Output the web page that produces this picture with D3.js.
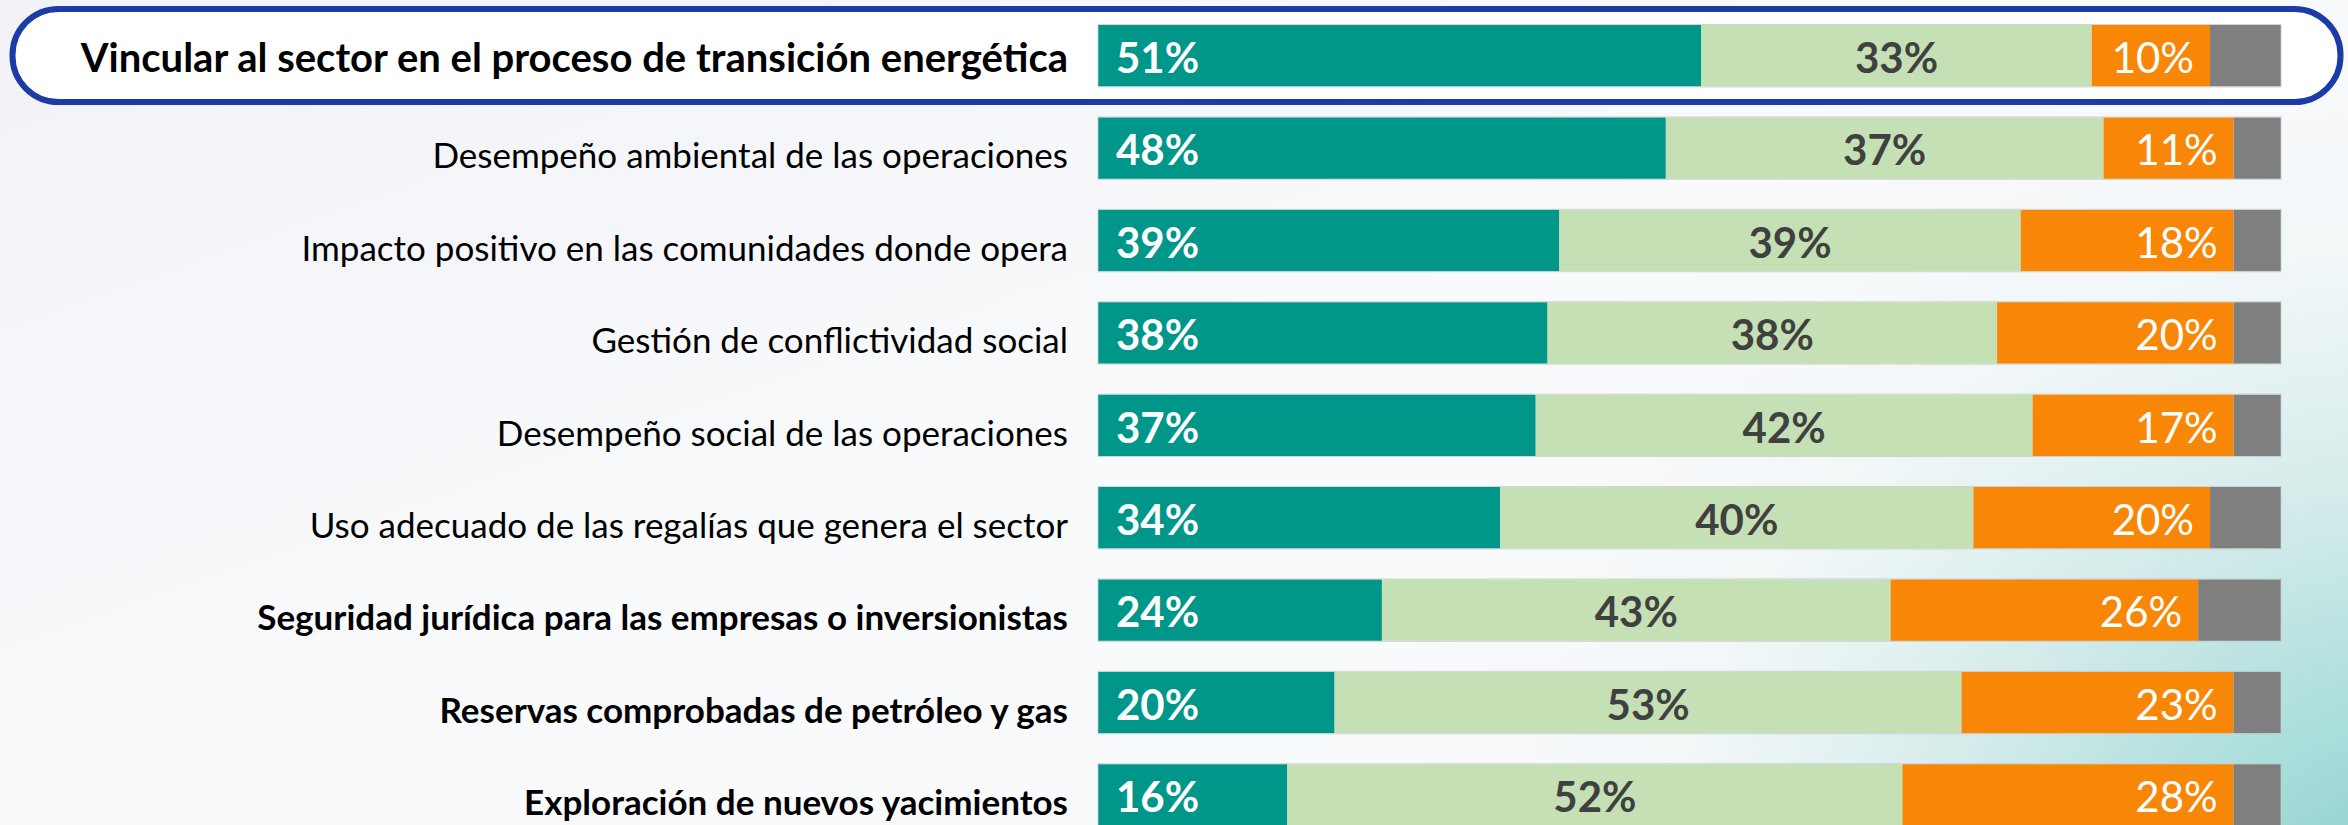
<!DOCTYPE html>
<html>
<head>
<meta charset="utf-8">
<script src="https://cdn.jsdelivr.net/npm/d3@7"></script>
<style>
  html, body { margin: 0; padding: 0; background: #f6f7fa; }
  svg { display: block; }
</style>
</head>
<body>
<svg id="chart" width="2348" height="825"></svg>
<script>
// ---- data ----
const categories = [
  "Vincular al sector en el proceso de transición energética",
  "Desempeño ambiental de las operaciones",
  "Impacto positivo en las comunidades donde opera",
  "Gestión de conflictividad social",
  "Desempeño social de las operaciones",
  "Uso adecuado de las regalías que genera el sector",
  "Seguridad jurídica para las empresas o inversionistas",
  "Reservas comprobadas de petróleo y gas",
  "Exploración de nuevos yacimientos"
];
const seriesA = [51, 48, 39, 38, 37, 34, 24, 20, 16]; // teal
const seriesB = [33, 37, 39, 38, 42, 40, 43, 53, 52]; // light green
const seriesC = [10, 11, 18, 20, 17, 20, 26, 23, 28]; // orange
const seriesD = [6, 4, 4, 4, 4, 6, 7, 4, 4];          // grey (no label)
const boldCategories = [
  "Vincular al sector en el proceso de transición energética",
  "Seguridad jurídica para las empresas o inversionistas",
  "Reservas comprobadas de petróleo y gas",
  "Exploración de nuevos yacimientos"
];
const highlighted = categories[0];

// ---- build table ----
const keys = ["a", "b", "c", "d"];
const table = categories.map((c, i) => ({ cat: c, a: seriesA[i], b: seriesB[i], c: seriesC[i], d: seriesD[i] }));
const stacked = d3.stack().keys(keys)(table);

const W = 2348, H = 825;
const svg = d3.select("#chart");
const FONT = "Lato, 'Open Sans', 'Noto Sans', sans-serif";

// ---- background ----
const defs = svg.append("defs");
const rg = defs.append("radialGradient").attr("id", "bgTeal")
  .attr("gradientUnits", "userSpaceOnUse")
  .attr("cx", 2420).attr("cy", 930).attr("r", 1080)
  .attr("gradientTransform", "translate(2420,930) scale(1,0.9) translate(-2420,-930)");
[[0, "#86cac7", 1], [0.22, "#a9dedb", 1], [0.45, "#d3ebea", 1], [0.7, "#eef5f6", 0.7], [1, "#f6f7fa", 0]]
  .forEach(([o, c, op]) => rg.append("stop").attr("offset", o).attr("stop-color", c).attr("stop-opacity", op));
const lg = defs.append("linearGradient").attr("id", "bgLeft").attr("x1", 0).attr("y1", 0).attr("x2", 1).attr("y2", 1);
lg.append("stop").attr("offset", 0).attr("stop-color", "#f0f2f6");
lg.append("stop").attr("offset", 0.5).attr("stop-color", "#f9fafc");
svg.append("rect").attr("width", W).attr("height", H).attr("fill", "url(#bgLeft)");
svg.append("rect").attr("width", W).attr("height", H).attr("fill", "url(#bgTeal)");

// ---- scales ----
const n = categories.length;
const rowStep = 92.4, rowPad = 0.335, rowTop = 25;
const y = d3.scaleBand().domain(categories)
  .range([rowTop, rowTop + rowStep * (n - rowPad)])
  .paddingInner(rowPad).paddingOuter(0);
const x = d3.scaleLinear().domain([0, 100]).range([1098, 2281]);

// ---- highlight box ----
const hy = y(highlighted);
svg.append("rect")
  .attr("x", 12.5).attr("y", hy - 16).attr("width", 2328).attr("height", 93)
  .attr("rx", 46).attr("ry", 46)
  .attr("fill", "#ffffff").attr("stroke", "#1b3ba6").attr("stroke-width", 6);

// ---- bars ----
const colors = { a: "#00968a", b: "#c5e0b5", c: "#f88707", d: "#7f7f7f" };
const layer = svg.append("g").selectAll("g").data(stacked).join("g")
  .attr("fill", s => colors[s.key]);
layer.selectAll("rect").data(s => s.map(v => ({ v, key: s.key })))
  .join("rect")
  .attr("x", d => x(d.v[0]))
  .attr("y", d => y(d.v.data.cat))
  .attr("width", d => x(d.v[1]) - x(d.v[0]))
  .attr("height", y.bandwidth());

// thin outline lines above/below bars
svg.append("g").selectAll("rect").data(table).join("rect")
  .attr("x", x(0)).attr("y", d => y(d.cat) - 0.5)
  .attr("width", x(100) - x(0)).attr("height", y.bandwidth() + 1)
  .attr("fill", "none").attr("stroke", "#c6cccc").attr("stroke-width", 1).attr("stroke-opacity", 0.8);

// ---- value labels ----
const lab = svg.append("g").attr("font-family", FONT).attr("font-size", 42);
lab.selectAll("text.a").data(table).join("text")
  .attr("x", x(0) + 18).attr("y", d => y(d.cat) + 48)
  .attr("fill", "#ffffff").attr("font-weight", 700)
  .text(d => d.a + "%");
lab.selectAll("text.b").data(table).join("text")
  .attr("x", d => x(d.a + d.b / 2)).attr("y", d => y(d.cat) + 48)
  .attr("text-anchor", "middle")
  .attr("fill", "#404040").attr("font-weight", 700)
  .text(d => d.b + "%");
lab.selectAll("text.c").data(table).join("text")
  .attr("x", d => x(d.a + d.b + d.c) - 16).attr("y", d => y(d.cat) + 48)
  .attr("text-anchor", "end")
  .attr("fill", "#ffffff").attr("font-weight", 400)
  .text(d => d.c + "%");

// ---- category labels ----
svg.append("g").attr("font-family", FONT).selectAll("text").data(categories).join("text")
  .attr("x", 1068)
  .attr("y", c => y(c) + (c === highlighted ? 47 : 51))
  .attr("text-anchor", "end")
  .attr("fill", "#000000")
  .attr("font-size", c => c === highlighted ? 40 : 35)
  .attr("font-weight", c => boldCategories.includes(c) ? 700 : 400)
  .text(c => c);
</script>
</body>
</html>
